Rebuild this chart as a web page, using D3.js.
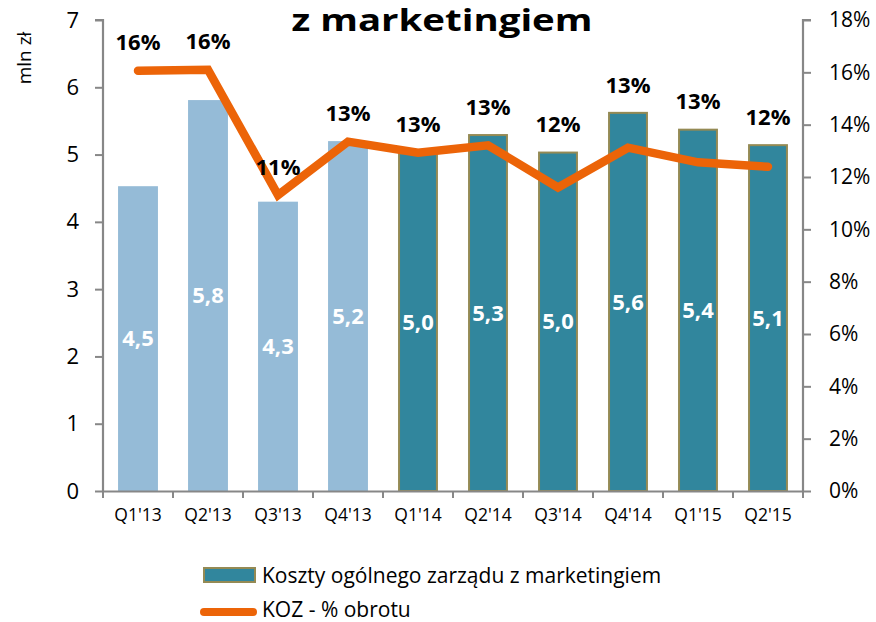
<!DOCTYPE html>
<html>
<head>
<meta charset="utf-8">
<script src="https://cdn.jsdelivr.net/npm/d3@7"></script>
<style>
  html, body { margin: 0; padding: 0; background: #fff; }
  svg { display: block; font-family: "Open Sans", sans-serif; }
</style>
</head>
<body>
<svg id="chart" width="876" height="622"></svg>
<script>
// quarters and values
const quarters = ["Q1'13", "Q2'13", "Q3'13", "Q4'13", "Q1'14", "Q2'14", "Q3'14", "Q4'14", "Q1'15", "Q2'15"];
const costs = [4.53, 5.81, 4.3, 5.2, 5.02, 5.29, 5.03, 5.62, 5.37, 5.14];      // mln zł
const costShare = [0.1606, 0.161, 0.1131, 0.1335, 0.1293, 0.1321, 0.116, 0.1312, 0.1256, 0.1239];
const highlighted = [false, false, false, false, true, true, true, true, true, true];
const leftTicks = [0, 1, 2, 3, 4, 5, 6, 7];
const rightTicks = [0, 0.02, 0.04, 0.06, 0.08, 0.10, 0.12, 0.14, 0.16, 0.18];

const title = 'z marketingiem';
const yLabel = 'mln zł';
const barLegend = 'Koszty ogólnego zarządu z marketingiem';
const lineLegend = 'KOZ - % obrotu';

const colors = {
    lightBar: '#95bbd7',
    darkBar: '#31869d',
    barEdge: '#948a54',
    line: '#ec6408',
    axis: '#878787'
};

const svg = d3.select('#chart');
const plot = {left: 103, right: 803, top: 20, bottom: 491};

const data = quarters.map(function(q, i) {
    return {q: q, cost: costs[i], share: costShare[i], dark: highlighted[i]};
});

let x = d3.scaleBand().domain(quarters).range([plot.left, plot.right])
    .paddingInner(0.43).paddingOuter(0.215);
let y = d3.scaleLinear().domain([0, 7]).range([plot.bottom, plot.top]);
let y2 = d3.scaleLinear().domain([0, 0.18]).range([plot.bottom, plot.top]);
let cx = function(d) { return x(d.q) + x.bandwidth() / 2; };

// title (sits right at the top edge in the original)
svg.append('text')
    .attr('x', 442).attr('y', 31)
    .attr('text-anchor', 'middle')
    .attr('font-size', 30).attr('font-weight', 700)
    .attr('textLength', 301).attr('lengthAdjust', 'spacingAndGlyphs')
    .text(title);

// bars
svg.append('g').selectAll('rect').data(data).enter().append('rect')
    .attr('x', function(d) { return d.dark ? x(d.q) + 1 : x(d.q); })
    .attr('y', function(d) { return y(d.cost); })
    .attr('width', function(d) { return d.dark ? x.bandwidth() - 2 : x.bandwidth(); })
    .attr('height', function(d) { return y(0) - y(d.cost); })
    .attr('fill', function(d) { return d.dark ? colors.darkBar : colors.lightBar; })
    .attr('stroke', function(d) { return d.dark ? colors.barEdge : 'none'; })
    .attr('stroke-width', 2);

// value labels inside bars
let fmt = d3.format('.1f');
svg.append('g').selectAll('text').data(data).enter().append('text')
    .attr('x', cx)
    .attr('y', function(d) { return (y(d.cost) + y(0)) / 2; })
    .attr('dy', '0.35em')
    .attr('text-anchor', 'middle')
    .attr('font-size', 22).attr('font-weight', 700)
    .attr('fill', '#fff')
    .text(function(d) { return fmt(d.cost).replace('.', ','); });

// axes
let leftAxis = d3.axisLeft(y).tickValues(leftTicks).tickSize(8).tickPadding(16).tickFormat(d3.format('d'));
let rightAxis = d3.axisRight(y2).tickValues(rightTicks).tickSize(8).tickPadding(18).tickFormat(d3.format('.0%'));
let bottomAxis = d3.axisBottom(x).tickSize(0).tickPadding(18);

let gl = svg.append('g').attr('transform', 'translate(' + plot.left + ',0)').call(leftAxis);
let gr = svg.append('g').attr('transform', 'translate(' + plot.right + ',0)').call(rightAxis);
let gb = svg.append('g').attr('transform', 'translate(0,' + plot.bottom + ')').call(bottomAxis);

// category boundary ticks on the x axis
let bounds = d3.range(quarters.length + 1).map(function(i) { return plot.left + i * x.step(); });
gb.selectAll('line.bound').data(bounds).enter().append('line')
    .attr('class', 'bound')
    .attr('x1', function(d) { return d; }).attr('x2', function(d) { return d; })
    .attr('y1', 0).attr('y2', 7);

[gl, gr, gb].forEach(function(g) {
    g.select('.domain').attr('stroke', colors.axis).attr('stroke-width', 2.2);
    g.selectAll('line').attr('stroke', colors.axis).attr('stroke-width', 2);
    g.selectAll('text').attr('fill', '#000').attr('font-family', '"Open Sans", sans-serif');
});
gl.selectAll('.tick text').attr('font-size', 22);
gr.selectAll('.tick text').attr('font-size', 21);
gb.selectAll('.tick text').attr('font-size', 17.5);
gl.select('.domain').attr('d', 'M-8,' + plot.top + 'H0V' + plot.bottom);
gr.select('.domain').attr('d', 'M8,' + plot.top + 'H0V' + plot.bottom);

svg.append('text')
    .attr('transform', 'translate(31,58) rotate(-90)')
    .attr('text-anchor', 'middle')
    .attr('font-size', 19)
    .text(yLabel);

// share line
let line = d3.line().x(cx).y(function(d) { return y2(d.share); });
svg.append('path').datum(data)
    .attr('d', line)
    .attr('fill', 'none')
    .attr('stroke', colors.line)
    .attr('stroke-width', 8.5)
    .attr('stroke-linejoin', 'miter')
    .attr('stroke-linecap', 'round');

// percent labels above the higher of line point and bar
svg.append('g').selectAll('text').data(data).enter().append('text')
    .attr('x', cx)
    .attr('y', function(d) { return Math.min(y2(d.share), y(d.cost)) - 28; })
    .attr('dy', '0.35em')
    .attr('text-anchor', 'middle')
    .attr('font-size', 22).attr('font-weight', 700)
    .text(function(d) { return Math.round(d.share * 100) + '%'; });

// legend
let legend = svg.append('g');
legend.append('rect')
    .attr('x', 204).attr('y', 568).attr('width', 51).attr('height', 14)
    .attr('fill', colors.darkBar).attr('stroke', colors.barEdge).attr('stroke-width', 2);
legend.append('text').attr('x', 262).attr('y', 583).attr('font-size', 21).text(barLegend);
legend.append('line')
    .attr('x1', 204).attr('x2', 253).attr('y1', 612).attr('y2', 612)
    .attr('stroke', colors.line).attr('stroke-width', 8).attr('stroke-linecap', 'round');
legend.append('text').attr('x', 262).attr('y', 617).attr('font-size', 21).text(lineLegend);
</script>
</body>
</html>
